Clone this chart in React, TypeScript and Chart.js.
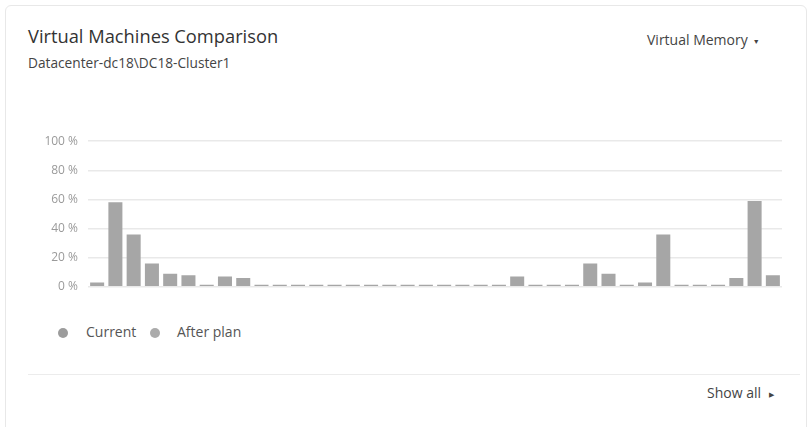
import React, { useEffect, useRef } from "react";
import { Chart, registerables } from "chart.js";

Chart.register(...registerables);

const vmLabels = [
  "VM-01", "VM-02", "VM-03", "VM-04", "VM-05", "VM-06", "VM-07", "VM-08", "VM-09", "VM-10",
  "VM-11", "VM-12", "VM-13", "VM-14", "VM-15", "VM-16", "VM-17", "VM-18", "VM-19", "VM-20",
  "VM-21", "VM-22", "VM-23", "VM-24", "VM-25", "VM-26", "VM-27", "VM-28", "VM-29", "VM-30",
  "VM-31", "VM-32", "VM-33", "VM-34", "VM-35", "VM-36", "VM-37", "VM-38",
];

const currentValues = [
  3, 58, 36, 16, 9, 8, 1, 7, 6, 0,
  0, 0, 0, 0, 0, 0, 0, 0, 0, 0,
  0, 0, 0, 7, 0, 0, 0, 16, 9, 0,
  3, 36, 1, 0, 0, 6, 59, 8,
];

const afterPlanValues: number[] = [];

const seriesNames = ["Current", "After plan"];
const seriesColors = ["#a6a6a6", "#b0b0b0"];
const legendDotColors = ["#9c9c9c", "#ababab"];

const yTicks = [0, 20, 40, 60, 80, 100];

const FONT = "'Open Sans', 'Noto Sans', sans-serif";

export default function App() {
  const canvasRef = useRef<HTMLCanvasElement | null>(null);

  useEffect(() => {
    document.body.style.margin = "0";
    const canvas = canvasRef.current;
    if (!canvas) return;
    const chart = new Chart(canvas, {
      type: "bar",
      data: {
        labels: vmLabels,
        datasets: [
          {
            label: seriesNames[0],
            data: currentValues,
            backgroundColor: seriesColors[0],
            borderWidth: 0,
            minBarLength: 2,
            categoryPercentage: 0.8,
            barPercentage: 0.96,
          },
          {
            label: seriesNames[1],
            data: afterPlanValues,
            backgroundColor: seriesColors[1],
            borderWidth: 0,
            categoryPercentage: 0.8,
            barPercentage: 0.96,
          },
        ],
      },
      options: {
        animation: false,
        responsive: false,
        maintainAspectRatio: false,
        grouped: false,
        layout: { padding: { top: 4, right: 8, bottom: 0, left: 0 } },
        plugins: {
          legend: { display: false },
          tooltip: { enabled: false },
        },
        scales: {
          x: {
            display: false,
            grid: { display: false },
          },
          y: {
            min: 0,
            max: 100,
            afterFit: (scale: any) => {
              scale.width = 68;
            },
            afterBuildTicks: (scale: any) => {
              scale.ticks = yTicks.map((v) => ({ value: v }));
            },
            border: { display: false },
            grid: {
              color: "#e9e9e9",
              lineWidth: 1.5,
              drawTicks: false,
              tickLength: 0,
            },
            ticks: {
              padding: 10,
              color: "#9a9a9a",
              font: { family: FONT, size: 12 },
              callback: (v: any) => `${v} %`,
            },
          },
        },
      } as any,
    });
    return () => chart.destroy();
  }, []);

  const textBase: React.CSSProperties = {
    position: "absolute",
    fontFamily: FONT,
    whiteSpace: "nowrap",
    lineHeight: 1,
  };

  return (
    <div
      style={{
        position: "fixed",
        left: 0,
        top: 0,
        width: 812,
        height: 427,
        background: "#ffffff",
        overflow: "hidden",
      }}
    >
      <div
        style={{
          position: "absolute",
          left: 5,
          top: 5,
          width: 802,
          height: 430,
          border: "1px solid #e8e8e8",
          borderRadius: 6,
          boxSizing: "border-box",
        }}
      />
      <div style={{ ...textBase, left: 28, top: 27, fontSize: 18.3, color: "#333333" }}>
        Virtual Machines Comparison
      </div>
      <div style={{ ...textBase, left: 28, top: 56, fontSize: 13.7, color: "#444444" }}>
        Datacenter-dc18\DC18-Cluster1
      </div>
      <div style={{ ...textBase, left: 647, top: 33, fontSize: 14, color: "#444444" }}>
        Virtual Memory
        <span style={{ display: "inline-block", marginLeft: 5, fontSize: 7, verticalAlign: "middle" }}>▼</span>
      </div>

      <div style={{ position: "absolute", left: 20, top: 124, width: 770, height: 180 }}>
        <canvas ref={canvasRef} width={770} height={180} style={{ display: "block" }} />
      </div>

      {seriesNames.map((name, i) => (
        <React.Fragment key={name}>
          <div
            style={{
              position: "absolute",
              left: i === 0 ? 58 : 150,
              top: 328,
              width: 10,
              height: 10,
              borderRadius: "50%",
              background: legendDotColors[i],
            }}
          />
          <div style={{ ...textBase, left: i === 0 ? 86 : 177, top: 325, fontSize: 14, color: "#555555" }}>
            {name}
          </div>
        </React.Fragment>
      ))}

      <div
        style={{
          position: "absolute",
          left: 28,
          top: 374,
          width: 772,
          height: 1,
          background: "#ececec",
        }}
      />
      <div style={{ ...textBase, left: 707, top: 386, fontSize: 14, color: "#444444" }}>
        Show all
        <span style={{ display: "inline-block", marginLeft: 8, fontSize: 7, verticalAlign: "middle" }}>▶</span>
      </div>
    </div>
  );
}
